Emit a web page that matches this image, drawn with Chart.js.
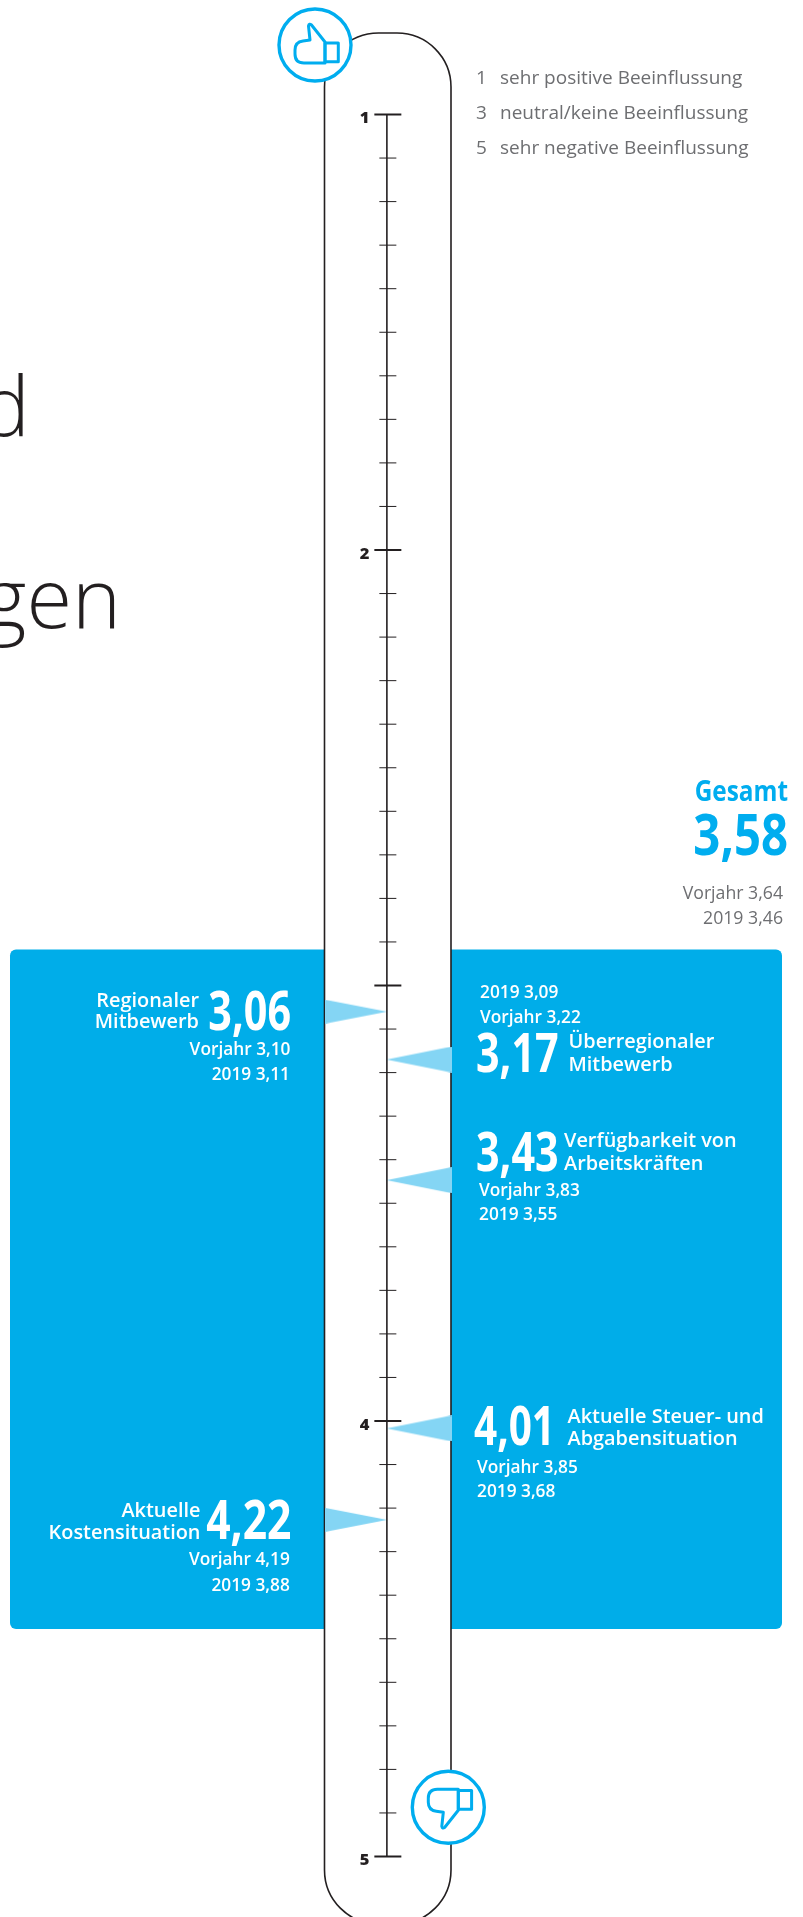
<!DOCTYPE html>
<html><head><meta charset="utf-8">
<script src="https://cdn.jsdelivr.net/npm/chart.js@4/dist/chart.umd.min.js"></script>
<style>html,body{margin:0;padding:0;background:#fff;overflow:hidden}canvas{display:block}</style>
</head><body><canvas id="c" width="803" height="1917"></canvas>
<script>
// ---- data ----
const categories = ["Regionaler Mitbewerb","Überregionaler Mitbewerb","Verfügbarkeit von Arbeitskräften","Aktuelle Steuer- und Abgabensituation","Aktuelle Kostensituation"];
const values     = [3.06,3.17,3.43,4.01,4.22];
const markerAt   = [3.06,3.17,3.447,4.017,4.227];
const vorjahr    = [3.10,3.22,3.83,3.85,4.19];
const y2019      = [3.11,3.09,3.55,3.68,3.88];
const gesamt = 3.58, gesamtVorjahr = 3.64, gesamt2019 = 3.46;
const majorTicks = [1,2,3,4,5];
const minorTicks = [1.1,1.2,1.3,1.4,1.5,1.6,1.7,1.8,1.9,2.1,2.2,2.3,2.4,2.5,2.6,2.7,2.8,2.9,3.1,3.2,3.3,3.4,3.5,3.6,3.7,3.8,3.9,4.1,4.2,4.3,4.4,4.5,4.6,4.7,4.8,4.9];
const tickLabels = [1,2,4,5];
const legendRows = [["1","sehr positive Beeinflussung"],["3","neutral/keine Beeinflussung"],["5","sehr negative Beeinflussung"]];

// ---- style / layout ----
const BLUE="#00ADE9", ICON="#00ADEF", INK="#231F20", GREY="#6D6E71", TRI="#84D5F4";
const FONT='"Open Sans"';
const axisX=386.3, leftSide=[0,4], rightSide=[1,2,3];
const fmt=v=>v.toFixed(2).replace(".",",");
function tri(len,half,dir){const c=document.createElement("canvas");c.width=len*2;c.height=half*2;const g=c.getContext("2d");g.fillStyle=TRI;g.beginPath();g.moveTo(len,half);g.lineTo(len+dir*len,0);g.lineTo(len+dir*len,half*2);g.closePath();g.fill();return c;}
const triL=tri(62,12,-1), triR=tri(65,13,1);

function T(ctx,s,x,y,font,color,align,sx){ctx.save();ctx.translate(x,y);ctx.scale(sx||1,1);ctx.font=font;ctx.fillStyle=color;ctx.textAlign=align||"left";ctx.textBaseline="alphabetic";ctx.fillText(s,0,0);ctx.restore();}
const NUM=`700 54px ${FONT}`, NAME=`600 19.9px ${FONT}`, SUB=`600 17.3px ${FONT}`, NSX=.765;
function texts(ctx){
  const W="#fff";
  T(ctx,"d",30,436,`300 83px ${FONT}`,INK,"right");
  T(ctx,"gen",121,628,`300 83px ${FONT}`,INK,"right");
  legendRows.forEach((r,i)=>{const y=[84.3,119.3,154][i];const f=`400 19px ${FONT}`;T(ctx,r[0],476,y,f,GREY);T(ctx,r[1],500,y,f,GREY);});
  T(ctx,"Gesamt",788,800.5,`700 28px ${FONT}`,ICON,"right",.87);
  T(ctx,fmt(gesamt),788,855,`700 57px ${FONT}`,ICON,"right",.83);
  T(ctx,"Vorjahr "+fmt(gesamtVorjahr),783,899,`400 17.7px ${FONT}`,GREY,"right");
  T(ctx,"2019 "+fmt(gesamt2019),783,924,`400 17.7px ${FONT}`,GREY,"right");
  // Regionaler
  T(ctx,"Regionaler",199,1006.7,NAME,W,"right");T(ctx,"Mitbewerb",199,1028,NAME,W,"right");
  T(ctx,fmt(values[0]),291,1029.7,NUM,W,"right",NSX);
  T(ctx,"Vorjahr "+fmt(vorjahr[0]),290.5,1054.5,SUB,W,"right");T(ctx,"2019 "+fmt(y2019[0]),290,1079.5,SUB,W,"right");
  // Ueberregional
  T(ctx,"2019 "+fmt(y2019[1]),480,998.3,SUB,W);T(ctx,"Vorjahr "+fmt(vorjahr[1]),480,1022.7,SUB,W);
  T(ctx,fmt(values[1]),476,1071.7,NUM,W,"left",NSX);
  T(ctx,"Überregionaler",568.5,1048.3,NAME,W);T(ctx,"Mitbewerb",568.5,1071,NAME,W);
  // Verfuegbarkeit
  T(ctx,fmt(values[2]),476,1170.7,NUM,W,"left",NSX);
  T(ctx,"Verfügbarkeit von",564,1147.3,NAME,W);T(ctx,"Arbeitskräften",564,1170,NAME,W);
  T(ctx,"Vorjahr "+fmt(vorjahr[2]),479,1195.7,SUB,W);T(ctx,"2019 "+fmt(y2019[2]),479,1220.3,SUB,W);
  // Steuer
  T(ctx,fmt(values[3]),474,1445,NUM,W,"left",.75);
  T(ctx,"Aktuelle Steuer- und",567.5,1422.7,NAME,W);T(ctx,"Abgabensituation",567.5,1445,NAME,W);
  T(ctx,"Vorjahr "+fmt(vorjahr[3]),477,1472.7,SUB,W);T(ctx,"2019 "+fmt(y2019[3]),477,1496.7,SUB,W);
  // Kosten
  T(ctx,"Aktuelle",200.5,1516.7,NAME,W,"right");T(ctx,"Kostensituation",200.5,1539.3,NAME,W,"right");
  T(ctx,fmt(values[4]),291.5,1538.5,NUM,W,"right",.79);
  T(ctx,"Vorjahr "+fmt(vorjahr[4]),289.8,1565.3,SUB,W,"right");T(ctx,"2019 "+fmt(y2019[4]),289.8,1591,SUB,W,"right");
}
function thumb(ctx,cx,cy,flip){
  ctx.save();ctx.translate(cx,cy);
  ctx.beginPath();ctx.arc(0,0,36,0,Math.PI*2);ctx.fillStyle="#fff";ctx.fill();ctx.lineWidth=3.4;ctx.strokeStyle=ICON;ctx.stroke();
  if(flip)ctx.scale(1,-1);
  ctx.lineWidth=3;ctx.lineJoin="round";
  ctx.beginPath();ctx.moveTo(10,-18);ctx.lineTo(-11,-18);ctx.quadraticCurveTo(-20,-18,-20,-9);ctx.lineTo(-20,-5);ctx.quadraticCurveTo(-20,3,-12,4);ctx.lineTo(-5,5);ctx.lineTo(-6.5,19);ctx.quadraticCurveTo(-6,22,-3.5,20);ctx.lineTo(10,3);ctx.closePath();ctx.stroke();
  ctx.strokeRect(10,-16.7,13.3,18.7);
  ctx.restore();
}
const backdrop={id:"backdrop",
  beforeDraw(ch){const c=ch.ctx;c.save();
    c.fillStyle=BLUE;c.beginPath();c.roundRect(10,949.5,772,679.5,6);c.fill();
    c.beginPath();c.roundRect(324.5,33,126.5,1891,54);c.fillStyle="#fff";c.fill();c.lineWidth=1.6;c.strokeStyle=INK;c.stroke();
    c.restore();},
  afterDraw(ch){const c=ch.ctx;texts(c);thumb(c,315,45,true);thumb(c,448.3,1807.3,false);}
};
new Chart(document.getElementById("c"),{
  type:"scatter",
  data:{datasets:[
    {label:"Skala",showLine:true,data:[{x:axisX,y:1},{x:axisX,y:5}],borderColor:INK,borderWidth:1.6,pointRadius:0,clip:false},
    {label:"Hauptstriche",data:majorTicks.map(v=>({x:axisX+1,y:v})),pointStyle:"line",pointRadius:13.5,borderColor:INK,pointBorderWidth:2,clip:false},
    {label:"Nebenstriche",data:minorTicks.map(v=>({x:axisX+1,y:v})),pointStyle:"line",pointRadius:8.5,borderColor:INK,pointBorderWidth:1,clip:false},
    {label:"links",data:leftSide.map(i=>({x:386.5,y:markerAt[i]})),pointStyle:triL,pointRadius:10,clip:false},
    {label:"rechts",data:rightSide.map(i=>({x:386,y:markerAt[i]})),pointStyle:triR,pointRadius:10,clip:false}
  ]},
  options:{responsive:false,animation:false,devicePixelRatio:1,
    layout:{padding:{top:114.5,bottom:60.5,left:0,right:0}},
    plugins:{legend:{display:false},tooltip:{enabled:false},title:{display:false}},
    scales:{
      x:{type:"linear",min:0,max:803,display:false},
      y:{type:"linear",reverse:true,min:1,max:5,position:{x:368},
        afterBuildTicks(a){a.ticks=majorTicks.map(v=>({value:v}));},
        grid:{display:false},border:{display:false},
        ticks:{padding:0,labelOffset:4,color:INK,font:{family:"Open Sans",weight:"800",size:16.5},
          callback:v=>tickLabels.includes(v)?String(v):""}}
    }},
  plugins:[backdrop]
});
</script></body></html>
